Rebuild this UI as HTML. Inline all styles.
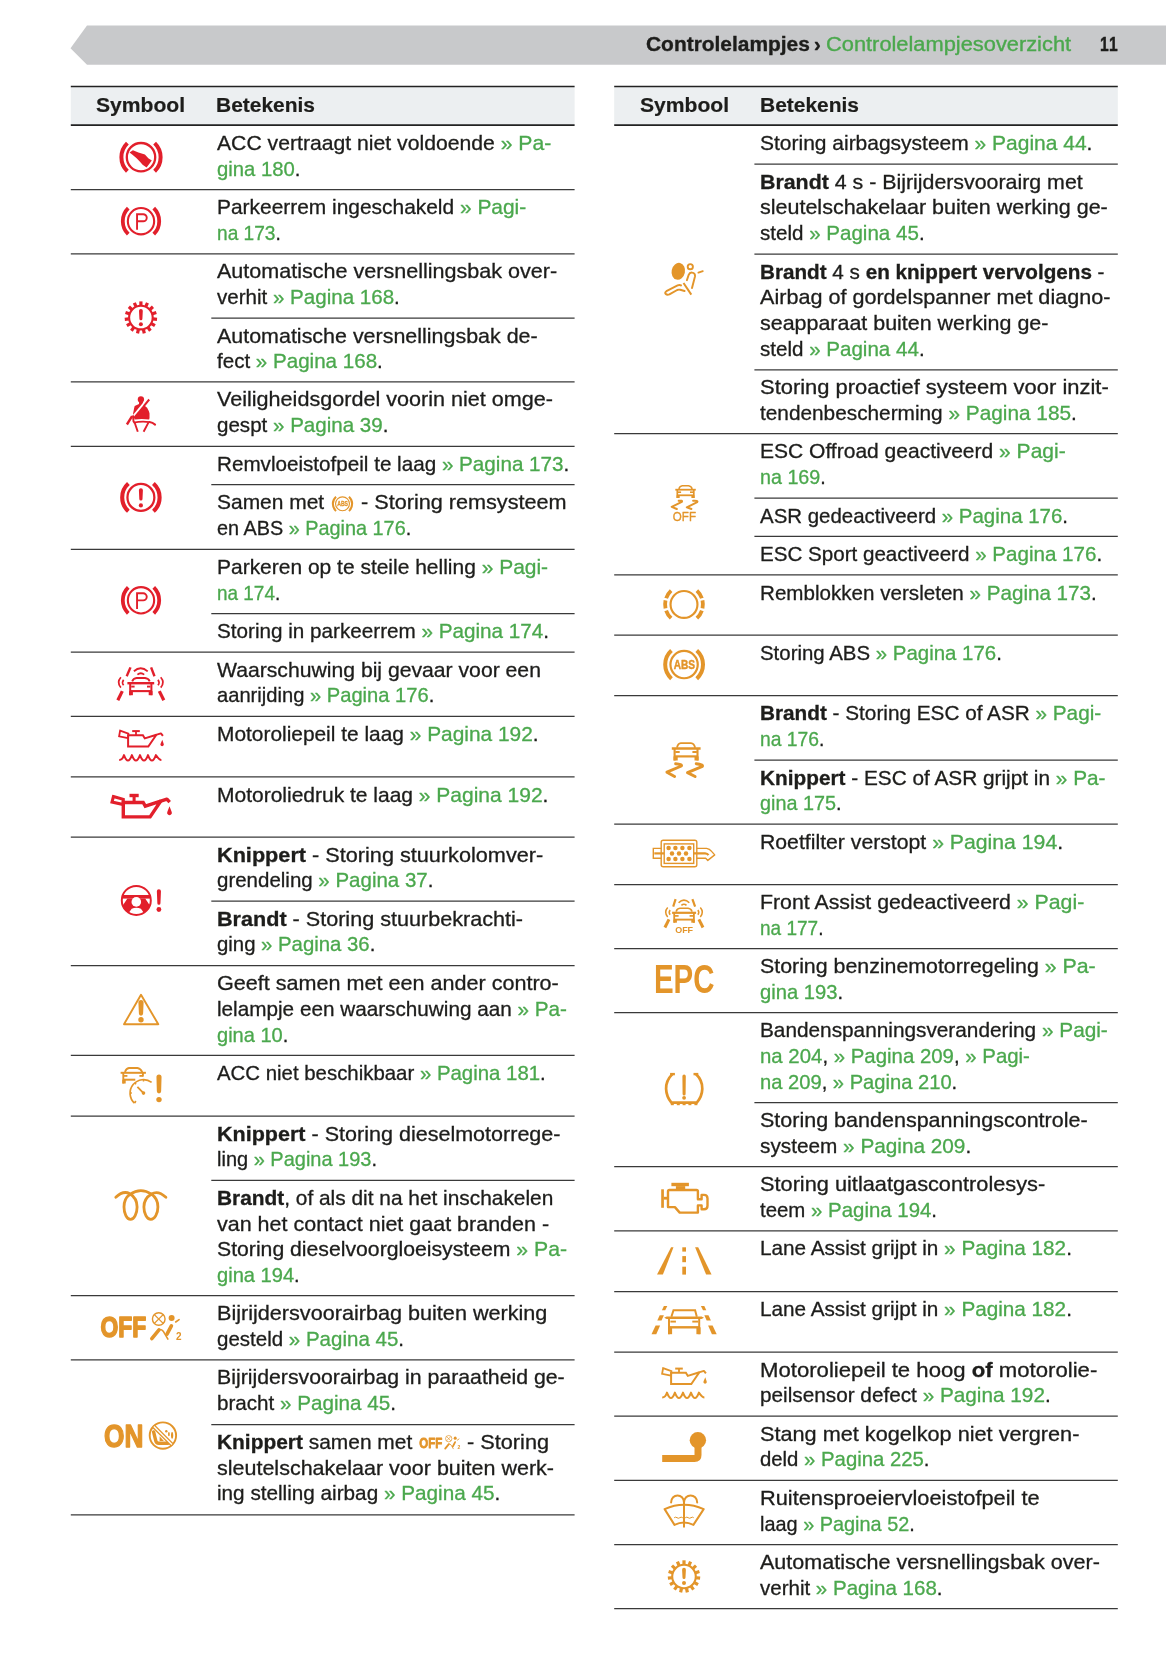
<!DOCTYPE html>
<html><head><meta charset="utf-8"><title>Controlelampjesoverzicht</title>
<style>
html,body{margin:0;padding:0;background:#fff}
body{width:1166px;height:1654px;position:relative;overflow:hidden;will-change:transform;font-family:"Liberation Sans",sans-serif;color:#1d1d1b}
svg.bg{position:absolute;left:0;top:0}
.l{position:absolute;white-space:nowrap;-webkit-text-stroke:0.3px currentColor;transform-origin:0 0;font-size:19.8px;line-height:25.7px;height:25.7px}
.l i{font-style:normal;color:#4ba84d}
.l b{font-weight:bold}
.h{position:absolute;white-space:nowrap;-webkit-text-stroke:0.2px currentColor;font-weight:bold;font-size:20px;line-height:24px;height:24px;transform-origin:0 0}
.bn{position:absolute;white-space:nowrap;-webkit-text-stroke:0.35px currentColor;font-size:20px;line-height:24px;height:24px;transform-origin:0 0}
.bn i{font-style:normal;color:#4ba84d}
</style></head><body>
<svg class="bg" width="1166" height="1654" viewBox="0 0 1166 1654">
<path d="M70.5 48.2 L87 25.6 H1166 V64.8 H87 Z" fill="#c8c9cb"/>
<rect x="70.8" y="86.6" width="503.8" height="38.4" fill="#eceff1"/>
<path d="M70.8 86.6H574.6" stroke="#222" stroke-width="1.5"/>
<path d="M70.8 125.1H574.6" stroke="#222" stroke-width="1.8"/>
<path d="M70.8 189.5H574.6" stroke="#3a3a3a" stroke-width="1.25"/>
<path d="M70.8 253.8H574.6" stroke="#3a3a3a" stroke-width="1.25"/>
<path d="M211.3 318.1H574.6" stroke="#3a3a3a" stroke-width="1.25"/>
<path d="M70.8 381.9H574.6" stroke="#3a3a3a" stroke-width="1.25"/>
<path d="M70.8 446.4H574.6" stroke="#3a3a3a" stroke-width="1.25"/>
<path d="M211.3 484.7H574.6" stroke="#3a3a3a" stroke-width="1.25"/>
<path d="M70.8 549.3H574.6" stroke="#3a3a3a" stroke-width="1.25"/>
<path d="M211.3 613.6H574.6" stroke="#3a3a3a" stroke-width="1.25"/>
<path d="M70.8 652.0H574.6" stroke="#3a3a3a" stroke-width="1.25"/>
<path d="M70.8 716.4H574.6" stroke="#3a3a3a" stroke-width="1.25"/>
<path d="M70.8 776.9H574.6" stroke="#3a3a3a" stroke-width="1.25"/>
<path d="M70.8 837.1H574.6" stroke="#3a3a3a" stroke-width="1.25"/>
<path d="M211.3 901.1H574.6" stroke="#3a3a3a" stroke-width="1.25"/>
<path d="M70.8 965.5H574.6" stroke="#3a3a3a" stroke-width="1.25"/>
<path d="M70.8 1055.3H574.6" stroke="#3a3a3a" stroke-width="1.25"/>
<path d="M70.8 1116.0H574.6" stroke="#3a3a3a" stroke-width="1.25"/>
<path d="M211.3 1180.4H574.6" stroke="#3a3a3a" stroke-width="1.25"/>
<path d="M70.8 1295.6H574.6" stroke="#3a3a3a" stroke-width="1.25"/>
<path d="M70.8 1359.9H574.6" stroke="#3a3a3a" stroke-width="1.25"/>
<path d="M211.3 1424.5H574.6" stroke="#3a3a3a" stroke-width="1.25"/>
<path d="M70.8 1514.8H574.6" stroke="#3a3a3a" stroke-width="1.25"/>
<rect x="614.2" y="86.6" width="503.6" height="38.4" fill="#eceff1"/>
<path d="M614.2 86.6H1117.8" stroke="#222" stroke-width="1.5"/>
<path d="M614.2 125.1H1117.8" stroke="#222" stroke-width="1.8"/>
<path d="M754.4 164.2H1117.8" stroke="#3a3a3a" stroke-width="1.25"/>
<path d="M754.4 254.0H1117.8" stroke="#3a3a3a" stroke-width="1.25"/>
<path d="M754.4 369.8H1117.8" stroke="#3a3a3a" stroke-width="1.25"/>
<path d="M614.2 433.7H1117.8" stroke="#3a3a3a" stroke-width="1.25"/>
<path d="M754.4 498.0H1117.8" stroke="#3a3a3a" stroke-width="1.25"/>
<path d="M754.4 536.4H1117.8" stroke="#3a3a3a" stroke-width="1.25"/>
<path d="M614.2 574.9H1117.8" stroke="#3a3a3a" stroke-width="1.25"/>
<path d="M614.2 635.1H1117.8" stroke="#3a3a3a" stroke-width="1.25"/>
<path d="M614.2 695.5H1117.8" stroke="#3a3a3a" stroke-width="1.25"/>
<path d="M754.4 760.0H1117.8" stroke="#3a3a3a" stroke-width="1.25"/>
<path d="M614.2 824.1H1117.8" stroke="#3a3a3a" stroke-width="1.25"/>
<path d="M614.2 884.5H1117.8" stroke="#3a3a3a" stroke-width="1.25"/>
<path d="M614.2 948.6H1117.8" stroke="#3a3a3a" stroke-width="1.25"/>
<path d="M614.2 1012.7H1117.8" stroke="#3a3a3a" stroke-width="1.25"/>
<path d="M754.4 1102.5H1117.8" stroke="#3a3a3a" stroke-width="1.25"/>
<path d="M614.2 1166.6H1117.8" stroke="#3a3a3a" stroke-width="1.25"/>
<path d="M614.2 1230.8H1117.8" stroke="#3a3a3a" stroke-width="1.25"/>
<path d="M614.2 1291.5H1117.8" stroke="#3a3a3a" stroke-width="1.25"/>
<path d="M614.2 1352.0H1117.8" stroke="#3a3a3a" stroke-width="1.25"/>
<path d="M614.2 1416.0H1117.8" stroke="#3a3a3a" stroke-width="1.25"/>
<path d="M614.2 1480.3H1117.8" stroke="#3a3a3a" stroke-width="1.25"/>
<path d="M614.2 1544.6H1117.8" stroke="#3a3a3a" stroke-width="1.25"/>
<path d="M614.2 1608.7H1117.8" stroke="#3a3a3a" stroke-width="1.25"/>
<g transform="translate(141.00 157.20) scale(1.000)" color="#e21f2b" fill="none" stroke="currentColor"><circle cx="0.00" cy="0.00" r="14.20" stroke-width="2.30"/><path d="M-13.62 14.10A19.60 19.60 0 0 1 -13.62 -14.10" stroke-width="4.00" /><path d="M13.62 -14.10A19.60 19.60 0 0 1 13.62 14.10" stroke-width="4.00" /><path d="M-11.50 -4.70L-8.10 -6.90L-2.60 -4.80L3.90 -2.70L7.30 1.00L10.80 3.40L5.60 10.30L1.60 7.60L-1.00 4.60L-4.40 1.00L-8.20 -2.20Z" fill="currentColor" stroke="none"/></g>
<g transform="translate(141.00 221.20) scale(1.000)" color="#e21f2b" fill="none" stroke="currentColor"><circle cx="0.00" cy="0.00" r="13.15" stroke-width="2.10"/><path d="M-12.76 12.98A18.20 18.20 0 0 1 -12.76 -12.98" stroke-width="3.80" /><path d="M12.76 -12.98A18.20 18.20 0 0 1 12.76 12.98" stroke-width="3.80" /><path d="M-3.95 8.6V-7H2.2A3.55 3.55 0 0 1 2.2 0.1H-3.95" stroke-width="1.9"/></g>
<g transform="translate(140.90 317.60) scale(1.000)" color="#e21f2b" fill="none" stroke="currentColor"><circle cx="0.00" cy="0.00" r="11.80" stroke-width="2.10"/><rect x="-1.6" y="-16.2" width="3.2" height="4" transform="rotate(0)" fill="currentColor" stroke="none"/><rect x="-1.6" y="-16.2" width="3.2" height="4" transform="rotate(24)" fill="currentColor" stroke="none"/><rect x="-1.6" y="-16.2" width="3.2" height="4" transform="rotate(48)" fill="currentColor" stroke="none"/><rect x="-1.6" y="-16.2" width="3.2" height="4" transform="rotate(72)" fill="currentColor" stroke="none"/><rect x="-1.6" y="-16.2" width="3.2" height="4" transform="rotate(96)" fill="currentColor" stroke="none"/><rect x="-1.6" y="-16.2" width="3.2" height="4" transform="rotate(120)" fill="currentColor" stroke="none"/><rect x="-1.6" y="-16.2" width="3.2" height="4" transform="rotate(144)" fill="currentColor" stroke="none"/><rect x="-1.6" y="-16.2" width="3.2" height="4" transform="rotate(168)" fill="currentColor" stroke="none"/><rect x="-1.6" y="-16.2" width="3.2" height="4" transform="rotate(192)" fill="currentColor" stroke="none"/><rect x="-1.6" y="-16.2" width="3.2" height="4" transform="rotate(216)" fill="currentColor" stroke="none"/><rect x="-1.6" y="-16.2" width="3.2" height="4" transform="rotate(240)" fill="currentColor" stroke="none"/><rect x="-1.6" y="-16.2" width="3.2" height="4" transform="rotate(264)" fill="currentColor" stroke="none"/><rect x="-1.6" y="-16.2" width="3.2" height="4" transform="rotate(288)" fill="currentColor" stroke="none"/><rect x="-1.6" y="-16.2" width="3.2" height="4" transform="rotate(312)" fill="currentColor" stroke="none"/><rect x="-1.6" y="-16.2" width="3.2" height="4" transform="rotate(336)" fill="currentColor" stroke="none"/><path d="M-1.90 -6.80A1.90 1.90 0 0 1 1.90 -6.80L1.50 1.10A1.50 1.50 0 0 1 -1.50 1.10Z" fill="currentColor" stroke="none"/><circle cx="0.00" cy="6.60" r="2.00" fill="currentColor" stroke="none"/></g>
<g transform="translate(141.00 414.00) scale(1.000)" color="#e21f2b" fill="none" stroke="currentColor"><circle cx="-0.10" cy="-14.50" r="3.15" fill="currentColor" stroke="none"/><path d="M-1.9 -12H1.9L2.0 -10.0L3.7 -8.3L6.1 -6.3Q7.8 -3.5 8.5 -0.8V4.0L8.1 5.5Q0.6 4.6 -6.3 5.5L-8.0 1.3Q-8.0 -1 -7.3 -3.5Q-7 -6 -6.3 -8.1L-2.0 -10.0Z" fill="currentColor" stroke="none"/><path d="M6.9 -15.7L-10.2 5.0" stroke="#fff" stroke-width="1.9"/><path d="M8.2 -14.5L3.0 -8.2" stroke-width="2.0"/><path d="M-8.9 2.2L-14.1 10.5" stroke-width="2.4"/><path d="M-7.3 8.6Q0.6 7.0 8.5 8.1" stroke-width="1.6"/><path d="M8.5 8.1Q11.6 8.6 14.1 10.6" stroke-width="2.0" stroke-linecap="round"/><path d="M-8.0 1.3L-7.5 7.4L-6.3 8.8L-3.2 17.7M7.4 8.6L2.6 17.7" stroke-width="1.9" stroke-linejoin="round"/></g>
<g transform="translate(140.90 497.40) scale(1.000)" color="#e21f2b" fill="none" stroke="currentColor"><circle cx="0.00" cy="0.00" r="13.45" stroke-width="2.25"/><path d="M-12.51 13.90A18.70 18.70 0 0 1 -12.51 -13.90" stroke-width="4.10" /><path d="M12.51 -13.90A18.70 18.70 0 0 1 12.51 13.90" stroke-width="4.10" /><path d="M-2.00 -7.10A2.00 2.00 0 0 1 2.00 -7.10L1.60 1.60A1.60 1.60 0 0 1 -1.60 1.60Z" fill="currentColor" stroke="none"/><circle cx="0.00" cy="8.00" r="2.10" fill="currentColor" stroke="none"/></g>
<g transform="translate(141.00 600.30) scale(1.000)" color="#e21f2b" fill="none" stroke="currentColor"><circle cx="0.00" cy="0.00" r="13.15" stroke-width="2.10"/><path d="M-12.76 12.98A18.20 18.20 0 0 1 -12.76 -12.98" stroke-width="3.80" /><path d="M12.76 -12.98A18.20 18.20 0 0 1 12.76 12.98" stroke-width="3.80" /><path d="M-3.95 8.6V-7H2.2A3.55 3.55 0 0 1 2.2 0.1H-3.95" stroke-width="1.9"/></g>
<g transform="translate(140.80 684.00) scale(1.000)" color="#e21f2b" fill="none" stroke="currentColor"><path d="M-10.30 -16.60L-14.10 -7.70" stroke-width="2.40" /><path d="M10.30 -16.60L13.70 -7.70" stroke-width="2.40" /><path d="M-18.50 7.10L-23.00 16.30" stroke-width="3.20" /><path d="M18.50 7.10L23.00 16.30" stroke-width="3.20" /><path d="M-6.9 -12.8Q0 -18.8 6.9 -12.6" stroke-width="1.8"/><path d="M-3.4 -9.3Q0 -12.3 3.4 -9.3" stroke-width="1.8"/><path d="M-19.90 -6.7Q-24.50 -1.5 -19.90 3.6" stroke-width="1.7"/><path d="M-17.20 -4.3Q-19.30 -1.5 -17.20 1.2" stroke-width="1.7"/><path d="M19.90 -6.7Q24.50 -1.5 19.90 3.6" stroke-width="1.7"/><path d="M17.20 -4.3Q19.30 -1.5 17.20 1.2" stroke-width="1.7"/><path d="M-8.60 -2.60Q-7.60 -5.70 -4.20 -6.00H4.20Q7.75 -5.70 8.90 -2.60" stroke-width="1.80"/><path d="M-13.40 -0.80L13.40 -0.80" stroke-width="2.40" /><path d="M-10.60 -0.80L-10.60 11.20" stroke-width="2.00" /><path d="M10.60 -0.80L10.60 11.20" stroke-width="2.00" /><path d="M-9.60 2.60L-6.20 2.60" stroke-width="1.90" /><path d="M6.20 2.60L9.60 2.60" stroke-width="1.90" /><path d="M-10.60 7.10L10.60 7.10" stroke-width="2.10" /><rect x="-11.70" y="7.10" width="3.80" height="4.10" fill="currentColor" stroke="none"/><rect x="7.90" y="7.10" width="3.80" height="4.10" fill="currentColor" stroke="none"/></g>
<g transform="translate(141.00 746.50) scale(1.000)" color="#e21f2b" fill="none" stroke="currentColor"><path d="M-12.90 -11.30L1.90 -11.30L3.80 -8.10L15.40 -11.70L7.30 0.10L-12.90 0.10Z" stroke-width="2.00" stroke-linejoin="miter" stroke-miterlimit="2.5"/><path d="M15.00 -11.60L19.90 -13.10L21.90 -10.60" stroke-width="2.00" stroke-linejoin="round"/><path d="M-20.90 -15.90L-12.60 -12.80L-12.90 -8.40L-21.90 -10.20Z" stroke-width="1.80"/><path d="M-8.80 -15.40L-1.20 -15.40" stroke-width="2.00" /><path d="M-5.00 -15.40L-5.00 -11.30" stroke-width="1.80" /><path d="M21.30 -6.80L22.55 -2.95A1.70 1.70 0 1 1 19.66 -2.95Z" fill="currentColor" stroke="none"/><path d="M-21.8 13.6Q-18.4 13.6 -17.0 8.6Q-13.05 19.4 -9.10 8.6Q-5.05 19.4 -1.00 8.6Q3.00 19.4 7.00 8.6Q10.95 19.4 14.90 8.6Q18.4 13.6 20.4 13.6" stroke-width="2.0" stroke-linejoin="round"/></g>
<g transform="translate(141.00 807.00) scale(1.000)" color="#e21f2b" fill="none" stroke="currentColor"><path d="M-17.70 -4.50L2.20 -4.50L4.30 -0.80L19.60 -5.80L9.10 9.90L-17.70 9.90Z" stroke-width="3.40" stroke-linejoin="miter" stroke-miterlimit="2.5"/><path d="M19.00 -5.60L25.90 -7.90L28.70 -4.80" stroke-width="3.40" stroke-linejoin="round"/><path d="M-27.60 -10.40L-17.70 -7.70L-17.70 -2.50L-29.00 -4.90Z" stroke-width="3.06"/><path d="M-11.50 -11.50L-2.30 -11.50" stroke-width="3.40" /><path d="M-6.90 -11.50L-6.90 -4.50" stroke-width="3.06" /><path d="M28.50 -0.80L30.54 4.50A2.40 2.40 0 1 1 26.46 4.50Z" fill="currentColor" stroke="none"/></g>
<g transform="translate(136.30 900.40) scale(1.000)" color="#e21f2b" fill="none" stroke="currentColor"><defs><clipPath id="swc"><circle r="14.5"/></clipPath></defs><g clip-path="url(#swc)"><rect x="-15.00" y="-5.40" width="30.00" height="3.60" fill="currentColor" stroke="none"/><path d="M-8.9 -2L8.9 -2L13.4 4.8L12 9.6L8 13L4.6 8.4Q0 6.2 -4.6 8.4L-8 13L-12 9.6L-13.4 4.8Z" fill="currentColor" stroke="none"/></g><circle cx="0" cy="1.5" r="4.8" fill="#fff" stroke="none"/><circle cx="0.00" cy="0.00" r="14.50" stroke-width="2.00"/><path d="M20.55 -9.15A2.05 2.05 0 0 1 24.65 -9.15L24.15 2.75A1.55 1.55 0 0 1 21.05 2.75Z" fill="currentColor" stroke="none"/><circle cx="22.60" cy="9.10" r="2.40" fill="currentColor" stroke="none"/></g>
<g transform="translate(141.00 1010.40) scale(1.000)" color="#e3952a" fill="none" stroke="currentColor"><path d="M0 -15.65L17.3 13.85H-17.0Z" stroke-width="1.9" stroke-linejoin="round"/><path d="M-2.60 -7.90A2.60 2.60 0 0 1 2.60 -7.90L2.10 3.20A2.10 2.10 0 0 1 -2.10 3.20Z" fill="currentColor" stroke="none"/><circle cx="0.00" cy="9.40" r="2.70" fill="currentColor" stroke="none"/></g>
<g transform="translate(141.00 1086.00) scale(1.000)" color="#e3952a" fill="none" stroke="currentColor"><path d="M-16 -13.9Q-15 -17.6 -12 -18H-3.6Q-0.4 -17.6 1.2 -13.9" stroke-width="1.8"/><path d="M-20.40 -13.20L4.90 -13.20" stroke-width="2.00" /><path d="M-17.70 -13.20L-17.70 -2.50" stroke-width="1.90" /><path d="M1.90 -13.20L1.90 -9.40" stroke-width="1.90" /><path d="M-17.00 -10.10L-13.60 -10.10" stroke-width="1.80" /><path d="M-1.60 -10.10L1.90 -10.10" stroke-width="1.80" /><path d="M-17.70 -6.30L-5.70 -6.30" stroke-width="2.00" /><rect x="-18.70" y="-6.30" width="3.40" height="3.80" fill="currentColor" stroke="none"/><path d="M-6.53 17.13A13.50 13.50 0 0 1 10.62 -3.68" stroke-width="1.70" /><path d="M-6.40 17.10L-5.20 15.00" stroke-width="1.70" /><path d="M2.50 -6.40L2.50 -4.50" stroke-width="1.50" /><path d="M-6.18 -3.24L-4.96 -1.79" stroke-width="1.50" /><path d="M-11.00 7.10L-9.10 7.10" stroke-width="1.50" /><circle cx="2.50" cy="7.10" r="1.80" fill="currentColor" stroke="none"/><path d="M2.50 7.10L-3.60 0.90" stroke-width="1.80" /><path d="M15.45 -8.95A2.55 2.55 0 0 1 20.55 -8.95L20.15 5.25A2.15 2.15 0 0 1 15.85 5.25Z" fill="currentColor" stroke="none"/><circle cx="18.00" cy="13.60" r="2.70" fill="currentColor" stroke="none"/></g>
<g transform="translate(140.70 1205.50) scale(1.000)" color="#e3952a" fill="none" stroke="currentColor"><path d="M-24.9 -8.2Q-17.5 -15.5 -10.8 -11.8C-5.5 -8.5 -3.6 -4 -3.6 1.4C-3.6 8 -6.5 13.9 -10.2 13.9C-13.9 13.9 -16.7 8 -16.7 1.4C-16.7 -4 -14.5 -8.5 -10.8 -11.1Q0 -18.6 10.8 -11.3C15.5 -8 17.2 -4 17.2 1.4C17.2 8 14 13.9 10.2 13.9C6.2 13.9 3.2 8 3.2 1.4C3.2 -4 6 -8.6 10.8 -11.5Q17.5 -15.5 25.2 -8.2" stroke-width="2.8" stroke-linecap="round" stroke-linejoin="round"/></g>
<g transform="translate(141.20 1326.35) scale(1.000)" color="#e3952a" fill="none" stroke="currentColor"><text transform="translate(-17.80 10.35) scale(0.790 1)" font-family="Liberation Sans, sans-serif" font-size="28.90" font-weight="bold" text-anchor="middle" fill="currentColor" stroke="currentColor" stroke-width="1.60" stroke-linejoin="round">OFF</text><circle cx="17.55" cy="-7.35" r="6.30" stroke-width="1.40"/><path d="M13.15 -11.75L21.95 -2.95" stroke-width="1.30" /><path d="M21.95 -11.75L13.15 -2.95" stroke-width="1.30" /><circle cx="30.40" cy="-8.45" r="3.00" fill="currentColor" stroke="none"/><path d="M34.50 -4.35L37.90 -6.75" stroke-width="1.60" stroke-linecap="round"/><path d="M10.60 12.25L17.80 3.55" stroke-width="3.60" stroke-linecap="round"/><path d="M17.40 3.25Q20.30 2.65 22.00 4.85L27.00 13.25" stroke-width="1.6"/><path d="M30.20 -0.55L25.80 7.85" stroke-width="3.60" stroke-linecap="round"/><text transform="translate(37.50 13.75) scale(0.950 1)" font-family="Liberation Sans, sans-serif" font-size="10.50" font-weight="bold" text-anchor="middle" fill="currentColor" stroke="none">2</text></g>
<g transform="translate(141.20 1435.60) scale(1.000)" color="#e3952a" fill="none" stroke="currentColor"><text transform="translate(-17.50 11.30) scale(0.830 1)" font-family="Liberation Sans, sans-serif" font-size="31.60" font-weight="bold" text-anchor="middle" fill="currentColor" stroke="currentColor" stroke-width="1.40" stroke-linejoin="round">ON</text><g transform="translate(21.70 0)"><circle cx="0.00" cy="0.00" r="13.20" stroke-width="1.90"/><path d="M-9.3 -3.7L-7.1 5.3Q-6.6 7.6 -4.1 7.6H5.3" stroke-width="3.4" stroke-linecap="round"/><path d="M-3.3 0.6L1 5.3H-3.3Z" fill="currentColor" stroke="none"/><ellipse cx="9.2" cy="-0.3" rx="1.1" ry="3.4" fill="currentColor" stroke="none"/><ellipse cx="6.0" cy="-1.5" rx="0.9" ry="2.2" fill="currentColor" stroke="none"/><circle cx="3.4" cy="-4.3" r="1.2" fill="currentColor" stroke="none"/><path d="M-9.6 -9.6L9.6 9.6" stroke-width="4.0"/><path d="M-9.0 -9.0L9.0 9.0" stroke="#fff" stroke-width="1.4"/></g></g>
<g transform="translate(342.50 503.80) scale(0.510)" color="#e3952a" fill="none" stroke="currentColor"><circle cx="0.00" cy="0.00" r="13.65" stroke-width="2.20"/><path d="M-12.65 14.05A18.90 18.90 0 0 1 -12.65 -14.05" stroke-width="4.00" /><path d="M12.65 -14.05A18.90 18.90 0 0 1 12.65 14.05" stroke-width="4.00" /><text transform="translate(0.20 4.10) scale(0.760 1)" font-family="Liberation Sans, sans-serif" font-size="13.30" font-weight="bold" text-anchor="middle" fill="currentColor" stroke="currentColor" stroke-width="0.50" stroke-linejoin="round">ABS</text></g>
<g transform="translate(439.85 1442.40) scale(0.505)" color="#e3952a" fill="none" stroke="currentColor"><text transform="translate(-17.80 10.35) scale(0.790 1)" font-family="Liberation Sans, sans-serif" font-size="28.90" font-weight="bold" text-anchor="middle" fill="currentColor" stroke="currentColor" stroke-width="1.60" stroke-linejoin="round">OFF</text><circle cx="17.55" cy="-7.35" r="6.30" stroke-width="1.40"/><path d="M13.15 -11.75L21.95 -2.95" stroke-width="1.30" /><path d="M21.95 -11.75L13.15 -2.95" stroke-width="1.30" /><circle cx="30.40" cy="-8.45" r="3.00" fill="currentColor" stroke="none"/><path d="M34.50 -4.35L37.90 -6.75" stroke-width="1.60" stroke-linecap="round"/><path d="M10.60 12.25L17.80 3.55" stroke-width="3.60" stroke-linecap="round"/><path d="M17.40 3.25Q20.30 2.65 22.00 4.85L27.00 13.25" stroke-width="1.6"/><path d="M30.20 -0.55L25.80 7.85" stroke-width="3.60" stroke-linecap="round"/><text transform="translate(37.50 13.75) scale(0.950 1)" font-family="Liberation Sans, sans-serif" font-size="10.50" font-weight="bold" text-anchor="middle" fill="currentColor" stroke="none">2</text></g>
<g transform="translate(684.00 279.00) scale(1.000)" color="#e3952a" fill="none" stroke="currentColor"><ellipse cx="-5.7" cy="-7.7" rx="6.7" ry="8.5" transform="rotate(12 -5.7 -7.7)" fill="currentColor" stroke="none"/><circle cx="6.30" cy="-12.30" r="2.60" stroke-width="1.90"/><path d="M14.40 -6.40L18.80 -7.90" stroke-width="1.80" stroke-linecap="round"/><path d="M2.9 1.2L4.7 -4.2Q5.6 -6.6 8.0 -6.4Q11.4 -6 11.0 -2.6L8.0 9.1" stroke-width="1.95" stroke-linecap="round"/><path d="M-3.0 6.4Q-4.4 5.4 -6.4 6.4L-17.6 12.2Q-19.6 13.6 -18.2 15.0Q-17 16.2 -14.6 15.4L-6.8 11.0Q-5.4 10.4 -3.8 10.8L0.6 12.0" stroke-width="1.95" stroke-linecap="round" stroke-linejoin="round"/><path d="M-0.50 4.00L7.30 15.60" stroke-width="2.00" /></g>
<g transform="translate(685.20 504.00) scale(1.000)" color="#e3952a" fill="none" stroke="currentColor"><path d="M-6.20 -15.00Q-5.75 -18.00 -2.90 -18.30H3.30Q6.30 -18.00 6.90 -15.00" stroke-width="1.53"/><path d="M-9.90 -14.30L10.60 -14.30" stroke-width="1.80" /><path d="M-7.90 -14.30L-7.90 -6.00" stroke-width="1.70" /><path d="M8.60 -14.30L8.60 -6.00" stroke-width="1.70" /><path d="M-7.20 -11.80L-4.10 -11.80" stroke-width="1.61" /><path d="M4.80 -11.80L7.90 -11.80" stroke-width="1.61" /><path d="M-7.90 -8.70L8.60 -8.70" stroke-width="1.78" /><rect x="-8.60" y="-8.70" width="3.10" height="2.70" fill="currentColor" stroke="none"/><rect x="6.20" y="-8.70" width="3.10" height="2.70" fill="currentColor" stroke="none"/><path d="M-6.50 -3.20Q-2.20 -3.80 -3.40 -2.20L-13.50 2.90L-8.40 5.00" stroke-width="2.00" stroke-linejoin="round" stroke-linecap="round"/><path d="M7.90 -3.20Q13.20 -3.50 12.00 -1.90L1.60 3.30L6.20 5.00" stroke-width="2.00" stroke-linejoin="round" stroke-linecap="round"/><text transform="translate(-0.80 17.30) scale(0.875 1)" font-family="Liberation Sans, sans-serif" font-size="13.20" font-weight="normal" text-anchor="middle" fill="currentColor" stroke="currentColor" stroke-width="0.35" stroke-linejoin="round">OFF</text></g>
<g transform="translate(684.00 604.40) scale(1.000)" color="#e3952a" fill="none" stroke="currentColor"><circle cx="0.00" cy="0.00" r="13.45" stroke-width="2.15"/><path d="M-12.89 13.82A18.90 18.90 0 0 1 -17.87 6.15" stroke-width="3.80" /><path d="M12.89 -13.82A18.90 18.90 0 0 1 17.87 -6.15" stroke-width="3.80" /><path d="M-18.49 3.93A18.90 18.90 0 0 1 -18.49 -3.93" stroke-width="3.80" /><path d="M18.49 -3.93A18.90 18.90 0 0 1 18.49 3.93" stroke-width="3.80" /><path d="M-17.87 -6.15A18.90 18.90 0 0 1 -12.89 -13.82" stroke-width="3.80" /><path d="M17.87 6.15A18.90 18.90 0 0 1 12.89 13.82" stroke-width="3.80" /></g>
<g transform="translate(684.10 664.60) scale(1.000)" color="#e3952a" fill="none" stroke="currentColor"><circle cx="0.00" cy="0.00" r="13.65" stroke-width="2.20"/><path d="M-12.65 14.05A18.90 18.90 0 0 1 -12.65 -14.05" stroke-width="4.00" /><path d="M12.65 -14.05A18.90 18.90 0 0 1 12.65 14.05" stroke-width="4.00" /><text transform="translate(0.20 4.10) scale(0.760 1)" font-family="Liberation Sans, sans-serif" font-size="13.30" font-weight="bold" text-anchor="middle" fill="currentColor" stroke="currentColor" stroke-width="0.50" stroke-linejoin="round">ABS</text></g>
<g transform="translate(685.20 760.00) scale(1.000)" color="#e3952a" fill="none" stroke="currentColor"><path d="M-8.20 -12.30Q-7.45 -16.60 -4.30 -16.90H5.70Q9.00 -16.60 9.90 -12.30" stroke-width="1.89"/><path d="M-13.40 -11.50L15.40 -11.50" stroke-width="2.50" /><path d="M-10.60 -11.50L-10.60 0.50" stroke-width="2.10" /><path d="M12.30 -11.50L12.30 0.50" stroke-width="2.10" /><path d="M-9.90 -8.00L-5.50 -8.00" stroke-width="1.99" /><path d="M7.20 -8.00L11.70 -8.00" stroke-width="1.99" /><path d="M-10.60 -3.60L12.30 -3.60" stroke-width="2.21" /><rect x="-11.70" y="-3.60" width="4.20" height="4.10" fill="currentColor" stroke="none"/><rect x="9.30" y="-3.60" width="4.10" height="4.10" fill="currentColor" stroke="none"/><path d="M-9.60 3.80Q-2.60 4.40 -3.80 6.00L-18.30 12.20L-10.60 16.50" stroke-width="2.90" stroke-linejoin="round" stroke-linecap="round"/><path d="M11.00 3.80Q18.40 4.80 17.20 6.40L2.30 12.60L9.90 16.50" stroke-width="2.90" stroke-linejoin="round" stroke-linecap="round"/></g>
<g transform="translate(684.00 853.50) scale(1.000)" color="#e3952a" fill="none" stroke="currentColor"><rect x="-22.8" y="-13.2" width="35.6" height="26.4" rx="2" stroke-width="1.4"/><rect x="-19.8" y="-9.6" width="29.5" height="19.5" stroke-width="1.4"/><circle cx="-15.40" cy="-5.50" r="2.25" fill="currentColor" stroke="none"/><circle cx="-8.60" cy="-5.50" r="2.25" fill="currentColor" stroke="none"/><circle cx="-1.60" cy="-5.50" r="2.25" fill="currentColor" stroke="none"/><circle cx="5.40" cy="-5.50" r="2.25" fill="currentColor" stroke="none"/><circle cx="-12.00" cy="0.00" r="2.25" fill="currentColor" stroke="none"/><circle cx="-5.00" cy="0.00" r="2.25" fill="currentColor" stroke="none"/><circle cx="2.00" cy="0.00" r="2.25" fill="currentColor" stroke="none"/><circle cx="-15.40" cy="5.40" r="2.25" fill="currentColor" stroke="none"/><circle cx="-8.60" cy="5.40" r="2.25" fill="currentColor" stroke="none"/><circle cx="-1.60" cy="5.40" r="2.25" fill="currentColor" stroke="none"/><circle cx="5.40" cy="5.40" r="2.25" fill="currentColor" stroke="none"/><path d="M-22.8 -5.1H-30.7V4.8H-22.8" stroke-width="1.4"/><path d="M-29.70 -0.10L-19.80 -0.10" stroke-width="2.20" /><path d="M12.8 -5.1H22.6Q25.6 -4.6 27.6 -2.1L30.7 1.4L23.8 6.9L21.7 4.8H12.8" stroke-width="1.4" stroke-linejoin="round"/><path d="M9.7 -0.1H21.1Q23.4 0 24.5 1.7" stroke-width="2.2"/></g>
<g transform="translate(684.00 916.00) scale(1.000)" color="#e3952a" fill="none" stroke="currentColor"><path d="M-8.40 -16.90L-10.80 -9.40" stroke-width="2.20" /><path d="M8.40 -16.90L11.10 -9.40" stroke-width="2.20" /><path d="M-15.00 3.30L-19.10 11.50" stroke-width="3.00" /><path d="M14.90 3.30L19.00 11.50" stroke-width="3.00" /><path d="M-5.4 -13.3Q0 -18.6 5.3 -13.3" stroke-width="1.6"/><path d="M-2.6 -10.6Q0 -12.9 2.5 -10.6" stroke-width="1.6"/><path d="M-16.30 -8.4Q-20.40 -3.6 -16.30 0.9" stroke-width="1.5"/><path d="M-13.90 -6Q-15.70 -3.6 -13.90 -1.2" stroke-width="1.5"/><path d="M16.30 -8.4Q20.40 -3.6 16.30 0.9" stroke-width="1.5"/><path d="M13.90 -6Q15.70 -3.6 13.90 -1.2" stroke-width="1.5"/><path d="M-7.80 -4.40Q-7.20 -7.40 -4.20 -7.70H4.10Q7.25 -7.40 8.00 -4.40" stroke-width="1.62"/><path d="M-11.90 -3.20L12.10 -3.20" stroke-width="2.20" /><path d="M-9.80 -3.20L-9.80 6.70" stroke-width="1.80" /><path d="M9.90 -3.20L9.90 6.70" stroke-width="1.80" /><path d="M-9.10 -0.10L-5.40 -0.10" stroke-width="1.71" /><path d="M5.60 -0.10L9.40 -0.10" stroke-width="1.71" /><path d="M-9.80 3.60L9.90 3.60" stroke-width="1.89" /><rect x="-10.50" y="3.60" width="3.40" height="3.10" fill="currentColor" stroke="none"/><rect x="7.30" y="3.60" width="3.50" height="3.10" fill="currentColor" stroke="none"/><text transform="translate(0.15 17.40) scale(0.930 1)" font-family="Liberation Sans, sans-serif" font-size="9.60" font-weight="bold" text-anchor="middle" fill="currentColor" stroke="none">OFF</text></g>
<g transform="translate(684.00 980.60) scale(1.000)" color="#e3952a" fill="none" stroke="currentColor"><text transform="translate(0.15 12.60) scale(0.740 1)" font-family="Liberation Sans, sans-serif" font-size="39.80" font-weight="bold" text-anchor="middle" fill="currentColor" stroke="none">EPC</text></g>
<g transform="translate(684.10 1088.90) scale(1.000)" color="#e3952a" fill="none" stroke="currentColor"><path d="M-11.7 -14.8C-15.8 -10.8 -18.2 -5.4 -18.0 0C-17.8 5.4 -15.8 10 -12.7 13.7H12.7C16 10 18.0 5.4 18.2 0C18.4 -5.4 16 -10.8 11.8 -14.8" stroke-width="2.7" stroke-linejoin="round"/><rect x="-14.00" y="-16.00" width="4.80" height="2.40" fill="currentColor" stroke="none"/><rect x="9.40" y="-16.00" width="4.80" height="2.40" fill="currentColor" stroke="none"/><rect x="-13.30" y="13.70" width="3.00" height="2.60" fill="currentColor" stroke="none"/><rect x="-7.30" y="13.70" width="3.00" height="2.60" fill="currentColor" stroke="none"/><rect x="-1.50" y="13.70" width="3.00" height="2.60" fill="currentColor" stroke="none"/><rect x="4.30" y="13.70" width="3.00" height="2.60" fill="currentColor" stroke="none"/><rect x="10.30" y="13.70" width="3.00" height="2.60" fill="currentColor" stroke="none"/><path d="M-1.70 -12.70A1.70 1.70 0 0 1 1.70 -12.70L1.50 5.00A1.50 1.50 0 0 1 -1.50 5.00Z" fill="currentColor" stroke="none"/><circle cx="0.00" cy="8.90" r="1.90" fill="currentColor" stroke="none"/></g>
<g transform="translate(684.00 1198.00) scale(1.000)" color="#e3952a" fill="none" stroke="currentColor"><path d="M-14.6 -8.0H12.5Q13.9 -8 13.9 -6.6V1.2H17.6V-3.1H20.0Q23.5 -3.1 23.5 0.4V7.7Q23.5 11.2 20.0 11.2H17.6V7.4H13.9V14.6H-4.3L-9.1 9.1H-16V-6.6Q-16 -8 -14.6 -8Z" stroke-width="2.4" stroke-linejoin="round"/><rect x="-12.60" y="-15.20" width="17.50" height="3.40" fill="currentColor" stroke="none"/><rect x="-8.10" y="-11.90" width="9.30" height="3.90" fill="currentColor" stroke="none"/><rect x="-22.80" y="-8.70" width="2.70" height="18.50" fill="currentColor" stroke="none"/><rect x="-20.20" y="-1.20" width="4.20" height="2.80" fill="currentColor" stroke="none"/></g>
<g transform="translate(684.00 1261.00) scale(1.000)" color="#e3952a" fill="none" stroke="currentColor"><path d="M-12.90 -13.70L-10.50 -13.70L-21.10 13.60L-27.00 13.60Z" fill="currentColor" stroke="none"/><path d="M11.10 -13.70L14.20 -13.70L27.60 13.60L22.10 13.60Z" fill="currentColor" stroke="none"/><rect x="-1.70" y="-13.70" width="3.70" height="4.30" fill="currentColor" stroke="none"/><rect x="-1.70" y="-4.90" width="3.70" height="6.10" fill="currentColor" stroke="none"/><rect x="-1.70" y="5.70" width="3.70" height="7.90" fill="currentColor" stroke="none"/></g>
<g transform="translate(684.10 1320.80) scale(1.000)" color="#e3952a" fill="none" stroke="currentColor"><path d="M-20.20 -14.80L-16.80 -14.80L-18.90 -10.60L-22.20 -10.60Z" fill="currentColor" stroke="none"/><path d="M20.20 -14.80L16.80 -14.80L18.90 -10.60L22.20 -10.60Z" fill="currentColor" stroke="none"/><path d="M-24.40 -5.50L-20.20 -5.50L-22.60 -0.30L-26.80 -0.30Z" fill="currentColor" stroke="none"/><path d="M24.40 -5.50L20.20 -5.50L22.60 -0.30L26.80 -0.30Z" fill="currentColor" stroke="none"/><path d="M-28.50 4.80L-24.00 4.80L-27.80 13.40L-32.60 13.40Z" fill="currentColor" stroke="none"/><path d="M28.50 4.80L24.00 4.80L27.80 13.40L32.60 13.40Z" fill="currentColor" stroke="none"/><path d="M-12.7 -4.1L-10.6 -10.6H11L12.7 -4.1" stroke-width="2.0"/><path d="M-19.9 -3.1L-17.5 -4.3H17.5L19.9 -3.1L17.5 -1.9H-17.5Z" fill="currentColor" stroke="none"/><path d="M-15.10 -3.10L-15.10 13.40" stroke-width="2.00" /><path d="M15.10 -3.10L15.10 13.40" stroke-width="2.00" /><path d="M-13.70 0.80L-8.20 0.80" stroke-width="1.90" /><path d="M8.20 0.80L14.10 0.80" stroke-width="1.90" /><path d="M-15.10 6.50L15.10 6.50" stroke-width="2.40" /><rect x="-16.10" y="6.50" width="4.10" height="6.90" fill="currentColor" stroke="none"/><rect x="12.30" y="6.50" width="4.20" height="6.90" fill="currentColor" stroke="none"/></g>
<g transform="translate(684.00 1384.00) scale(1.000)" color="#e3952a" fill="none" stroke="currentColor"><path d="M-12.90 -11.30L1.90 -11.30L3.80 -8.10L15.40 -11.70L7.30 0.10L-12.90 0.10Z" stroke-width="2.00" stroke-linejoin="miter" stroke-miterlimit="2.5"/><path d="M15.00 -11.60L19.90 -13.10L21.90 -10.60" stroke-width="2.00" stroke-linejoin="round"/><path d="M-20.90 -15.90L-12.60 -12.80L-12.90 -8.40L-21.90 -10.20Z" stroke-width="1.80"/><path d="M-8.80 -15.40L-1.20 -15.40" stroke-width="2.00" /><path d="M-5.00 -15.40L-5.00 -11.30" stroke-width="1.80" /><path d="M21.30 -6.80L22.55 -2.95A1.70 1.70 0 1 1 19.66 -2.95Z" fill="currentColor" stroke="none"/><path d="M-21.8 13.6Q-18.4 13.6 -17.0 8.6Q-13.05 19.4 -9.10 8.6Q-5.05 19.4 -1.00 8.6Q3.00 19.4 7.00 8.6Q10.95 19.4 14.90 8.6Q18.4 13.6 20.4 13.6" stroke-width="2.0" stroke-linejoin="round"/></g>
<g transform="translate(684.00 1448.00) scale(1.000)" color="#e3952a" fill="none" stroke="currentColor"><circle cx="13.90" cy="-7.70" r="8.20" fill="currentColor" stroke="none"/><path d="M-21.8 10.5H10.5Q14 10.5 14 7V-3" stroke-width="7"/></g>
<g transform="translate(684.00 1512.00) scale(1.000)" color="#e3952a" fill="none" stroke="currentColor"><path d="M-19.4 -2.9Q0 -11.7 19.7 -2.9L9.4 12.9Q0 8.1 -9.5 12.9Z" stroke-width="2.0" stroke-linejoin="round"/><path d="M0.00 -10.10L0.00 15.60" stroke-width="2.00" /><path d="M0 -9.4C0 -19 -12.9 -19 -12.9 -9.4" stroke-width="2.0" stroke-linecap="round"/><path d="M0 -9.4C0 -19 13.2 -19 13.2 -9.4" stroke-width="2.0" stroke-linecap="round"/><path d="M-9.8 5.7Q-8.4 4.6 -7 5.7T-4.2 5.7T-1.4 5.7T1.4 5.7T4.2 5.7T7 5.7T9.7 5.7" stroke-width="1.0"/></g>
<g transform="translate(684.00 1576.50) scale(1.000)" color="#e3952a" fill="none" stroke="currentColor"><circle cx="0.00" cy="0.00" r="11.80" stroke-width="2.10"/><rect x="-1.6" y="-16.2" width="3.2" height="4" transform="rotate(0)" fill="currentColor" stroke="none"/><rect x="-1.6" y="-16.2" width="3.2" height="4" transform="rotate(24)" fill="currentColor" stroke="none"/><rect x="-1.6" y="-16.2" width="3.2" height="4" transform="rotate(48)" fill="currentColor" stroke="none"/><rect x="-1.6" y="-16.2" width="3.2" height="4" transform="rotate(72)" fill="currentColor" stroke="none"/><rect x="-1.6" y="-16.2" width="3.2" height="4" transform="rotate(96)" fill="currentColor" stroke="none"/><rect x="-1.6" y="-16.2" width="3.2" height="4" transform="rotate(120)" fill="currentColor" stroke="none"/><rect x="-1.6" y="-16.2" width="3.2" height="4" transform="rotate(144)" fill="currentColor" stroke="none"/><rect x="-1.6" y="-16.2" width="3.2" height="4" transform="rotate(168)" fill="currentColor" stroke="none"/><rect x="-1.6" y="-16.2" width="3.2" height="4" transform="rotate(192)" fill="currentColor" stroke="none"/><rect x="-1.6" y="-16.2" width="3.2" height="4" transform="rotate(216)" fill="currentColor" stroke="none"/><rect x="-1.6" y="-16.2" width="3.2" height="4" transform="rotate(240)" fill="currentColor" stroke="none"/><rect x="-1.6" y="-16.2" width="3.2" height="4" transform="rotate(264)" fill="currentColor" stroke="none"/><rect x="-1.6" y="-16.2" width="3.2" height="4" transform="rotate(288)" fill="currentColor" stroke="none"/><rect x="-1.6" y="-16.2" width="3.2" height="4" transform="rotate(312)" fill="currentColor" stroke="none"/><rect x="-1.6" y="-16.2" width="3.2" height="4" transform="rotate(336)" fill="currentColor" stroke="none"/><path d="M-1.90 -6.80A1.90 1.90 0 0 1 1.90 -6.80L1.50 1.10A1.50 1.50 0 0 1 -1.50 1.10Z" fill="currentColor" stroke="none"/><circle cx="0.00" cy="6.60" r="2.00" fill="currentColor" stroke="none"/></g>
</svg>
<div class="bn" id="bn1" style="left:645.5px;top:32.47px;transform:scaleX(1.0459);"><b>Controlelampjes</b></div>
<div class="bn" id="bn2" style="left:814.0px;top:32.47px;transform:scaleX(1.0192);"><b>›</b></div>
<div class="bn" id="bn3" style="left:825.8px;top:32.47px;transform:scaleX(1.0915);"><i>Controlelampjesoverzicht</i></div>
<div class="bn" id="bn4" style="left:1099.6px;top:32.47px;transform:scaleX(0.7783);"><b style="-webkit-text-stroke:0.5px currentColor;letter-spacing:1.5px">11</b></div>
<div class="h" id="h1" style="left:96.3px;top:92.57px;transform:scaleX(1.0550);">Symbool</div>
<div class="h" id="h2" style="left:216.1px;top:92.57px;transform:scaleX(1.0476);">Betekenis</div>
<div class="h" id="h3" style="left:639.7px;top:92.57px;transform:scaleX(1.0550);">Symbool</div>
<div class="h" id="h4" style="left:759.5px;top:92.57px;transform:scaleX(1.0476);">Betekenis</div>
<div class="l" id="L0_0" style="left:217.4px;top:131px;transform:scaleX(1.0705);">ACC vertraagt niet voldoende <i>» Pa-</i></div>
<div class="l" id="L0_1" style="left:217.4px;top:157px;transform:scaleX(1.0245);"><i>gina 180</i>.</div>
<div class="l" id="L1_0" style="left:217.4px;top:195px;transform:scaleX(1.0572);">Parkeerrem ingeschakeld <i>» Pagi-</i></div>
<div class="l" id="L1_1" style="left:217.4px;top:221px;transform:scaleX(0.9664);"><i>na 173</i>.</div>
<div class="l" id="L2_0" style="left:217.4px;top:259px;transform:scaleX(1.0895);">Automatische versnellingsbak over-</div>
<div class="l" id="L2_1" style="left:217.4px;top:285px;transform:scaleX(1.0388);">verhit <i>» Pagina 168</i>.</div>
<div class="l" id="L3_0" style="left:217.4px;top:324px;transform:scaleX(1.0842);">Automatische versnellingsbak de-</div>
<div class="l" id="L3_1" style="left:217.4px;top:349px;transform:scaleX(1.0396);">fect <i>» Pagina 168</i>.</div>
<div class="l" id="L4_0" style="left:217.4px;top:387px;transform:scaleX(1.0912);">Veiligheidsgordel voorin niet omge-</div>
<div class="l" id="L4_1" style="left:217.4px;top:413px;transform:scaleX(1.0389);">gespt <i>» Pagina 39</i>.</div>
<div class="l" id="L5_0" style="left:217.4px;top:452px;transform:scaleX(1.0435);">Remvloeistofpeil te laag <i>» Pagina 173</i>.</div>
<div class="l" id="L6_0" style="left:217.4px;top:490px;transform:scaleX(1.0597);">Samen met</div>
<div class="l" id="L6_0_s1" style="left:360.8px;top:490px;transform:scaleX(1.0937);">- Storing remsysteem</div>
<div class="l" id="L6_1" style="left:217.4px;top:516px;transform:scaleX(1.0031);">en ABS <i>» Pagina 176</i>.</div>
<div class="l" id="L7_0" style="left:217.4px;top:555px;transform:scaleX(1.0602);">Parkeren op te steile helling <i>» Pagi-</i></div>
<div class="l" id="L7_1" style="left:217.4px;top:581px;transform:scaleX(0.9573);"><i>na 174</i>.</div>
<div class="l" id="L8_0" style="left:217.4px;top:619px;transform:scaleX(1.0450);">Storing in parkeerrem <i>» Pagina 174</i>.</div>
<div class="l" id="L9_0" style="left:217.4px;top:658px;transform:scaleX(1.0699);">Waarschuwing bij gevaar voor een</div>
<div class="l" id="L9_1" style="left:217.4px;top:683px;transform:scaleX(1.0184);">aanrijding <i>» Pagina 176</i>.</div>
<div class="l" id="L10_0" style="left:217.4px;top:722px;transform:scaleX(1.0557);">Motoroliepeil te laag <i>» Pagina 192</i>.</div>
<div class="l" id="L11_0" style="left:217.4px;top:783px;transform:scaleX(1.0611);">Motoroliedruk te laag <i>» Pagina 192</i>.</div>
<div class="l" id="L12_0" style="left:217.4px;top:843px;transform:scaleX(1.0950);"><b>Knippert</b> - Storing stuurkolomver-</div>
<div class="l" id="L12_1" style="left:217.4px;top:868px;transform:scaleX(1.0355);">grendeling <i>» Pagina 37</i>.</div>
<div class="l" id="L13_0" style="left:217.4px;top:907px;transform:scaleX(1.0915);"><b>Brandt</b> - Storing stuurbekrachti-</div>
<div class="l" id="L13_1" style="left:217.4px;top:932px;transform:scaleX(1.0279);">ging <i>» Pagina 36</i>.</div>
<div class="l" id="L14_0" style="left:217.4px;top:971px;transform:scaleX(1.0907);">Geeft samen met een ander contro-</div>
<div class="l" id="L14_1" style="left:217.4px;top:997px;transform:scaleX(1.0470);">lelampje een waarschuwing aan <i>» Pa-</i></div>
<div class="l" id="L14_2" style="left:217.4px;top:1023px;transform:scaleX(1.0127);"><i>gina 10</i>.</div>
<div class="l" id="L15_0" style="left:217.4px;top:1061px;transform:scaleX(1.0310);">ACC niet beschikbaar <i>» Pagina 181</i>.</div>
<div class="l" id="L16_0" style="left:217.4px;top:1122px;transform:scaleX(1.0887);"><b>Knippert</b> - Storing dieselmotorrege-</div>
<div class="l" id="L16_1" style="left:217.4px;top:1147px;transform:scaleX(1.0102);">ling <i>» Pagina 193</i>.</div>
<div class="l" id="L17_0" style="left:217.4px;top:1186px;transform:scaleX(1.0546);"><b>Brandt</b>, of als dit na het inschakelen</div>
<div class="l" id="L17_1" style="left:217.4px;top:1212px;transform:scaleX(1.0862);">van het contact niet gaat branden -</div>
<div class="l" id="L17_2" style="left:217.4px;top:1237px;transform:scaleX(1.0718);">Storing dieselvoorgloeisysteem <i>» Pa-</i></div>
<div class="l" id="L17_3" style="left:217.4px;top:1263px;transform:scaleX(1.0159);"><i>gina 194</i>.</div>
<div class="l" id="L18_0" style="left:217.4px;top:1301px;transform:scaleX(1.0927);">Bijrijdersvoorairbag buiten werking</div>
<div class="l" id="L18_1" style="left:217.4px;top:1327px;transform:scaleX(1.0366);">gesteld <i>» Pagina 45</i>.</div>
<div class="l" id="L19_0" style="left:217.4px;top:1365px;transform:scaleX(1.0755);">Bijrijdersvoorairbag in paraatheid ge-</div>
<div class="l" id="L19_1" style="left:217.4px;top:1391px;transform:scaleX(1.0427);">bracht <i>» Pagina 45</i>.</div>
<div class="l" id="L20_0" style="left:217.4px;top:1430px;transform:scaleX(1.0570);"><b>Knippert</b> samen met</div>
<div class="l" id="L20_0_s1" style="left:467.4px;top:1430px;transform:scaleX(1.0981);">- Storing</div>
<div class="l" id="L20_1" style="left:217.4px;top:1456px;transform:scaleX(1.0869);">sleutelschakelaar voor buiten werk-</div>
<div class="l" id="L20_2" style="left:217.4px;top:1481px;transform:scaleX(1.0468);">ing stelling airbag <i>» Pagina 45</i>.</div>
<div class="l" id="R0_0" style="left:760.4px;top:131px;transform:scaleX(1.0606);">Storing airbagsysteem <i>» Pagina 44</i>.</div>
<div class="l" id="R1_0" style="left:760.4px;top:170px;transform:scaleX(1.0793);"><b>Brandt</b> 4 s - Bijrijdersvoorairg met</div>
<div class="l" id="R1_1" style="left:760.4px;top:195px;transform:scaleX(1.0869);">sleutelschakelaar buiten werking ge-</div>
<div class="l" id="R1_2" style="left:760.4px;top:221px;transform:scaleX(1.0393);">steld <i>» Pagina 45</i>.</div>
<div class="l" id="R2_0" style="left:760.4px;top:260px;transform:scaleX(1.0446);"><b>Brandt</b> 4 s <b>en knippert vervolgens</b> -</div>
<div class="l" id="R2_1" style="left:760.4px;top:285px;transform:scaleX(1.0912);">Airbag of gordelspanner met diagno-</div>
<div class="l" id="R2_2" style="left:760.4px;top:311px;transform:scaleX(1.0837);">seapparaat buiten werking ge-</div>
<div class="l" id="R2_3" style="left:760.4px;top:337px;transform:scaleX(1.0393);">steld <i>» Pagina 44</i>.</div>
<div class="l" id="R3_0" style="left:760.4px;top:375px;transform:scaleX(1.1090);">Storing proactief systeem voor inzit-</div>
<div class="l" id="R3_1" style="left:760.4px;top:401px;transform:scaleX(1.0513);">tendenbescherming <i>» Pagina 185</i>.</div>
<div class="l" id="R4_0" style="left:760.4px;top:439px;transform:scaleX(1.0624);">ESC Offroad geactiveerd <i>» Pagi-</i></div>
<div class="l" id="R4_1" style="left:760.4px;top:465px;transform:scaleX(0.9967);"><i>na 169</i>.</div>
<div class="l" id="R5_0" style="left:760.4px;top:504px;transform:scaleX(1.0334);">ASR gedeactiveerd <i>» Pagina 176</i>.</div>
<div class="l" id="R6_0" style="left:760.4px;top:542px;transform:scaleX(1.0407);">ESC Sport geactiveerd <i>» Pagina 176</i>.</div>
<div class="l" id="R7_0" style="left:760.4px;top:581px;transform:scaleX(1.0415);">Remblokken versleten <i>» Pagina 173</i>.</div>
<div class="l" id="R8_0" style="left:760.4px;top:641px;transform:scaleX(1.0322);">Storing ABS <i>» Pagina 176</i>.</div>
<div class="l" id="R9_0" style="left:760.4px;top:701px;transform:scaleX(1.0484);"><b>Brandt</b> - Storing ESC of ASR <i>» Pagi-</i></div>
<div class="l" id="R9_1" style="left:760.4px;top:727px;transform:scaleX(0.9770);"><i>na 176</i>.</div>
<div class="l" id="R10_0" style="left:760.4px;top:766px;transform:scaleX(1.0511);"><b>Knippert</b> - ESC of ASR grijpt in <i>» Pa-</i></div>
<div class="l" id="R10_1" style="left:760.4px;top:791px;transform:scaleX(1.0012);"><i>gina 175</i>.</div>
<div class="l" id="R11_0" style="left:760.4px;top:830px;transform:scaleX(1.0725);">Roetfilter verstopt <i>» Pagina 194</i>.</div>
<div class="l" id="R12_0" style="left:760.4px;top:890px;transform:scaleX(1.0764);">Front Assist gedeactiveerd <i>» Pagi-</i></div>
<div class="l" id="R12_1" style="left:760.4px;top:916px;transform:scaleX(0.9619);"><i>na 177</i>.</div>
<div class="l" id="R13_0" style="left:760.4px;top:954px;transform:scaleX(1.0787);">Storing benzinemotorregeling <i>» Pa-</i></div>
<div class="l" id="R13_1" style="left:760.4px;top:980px;transform:scaleX(1.0208);"><i>gina 193</i>.</div>
<div class="l" id="R14_0" style="left:760.4px;top:1018px;transform:scaleX(1.0506);">Bandenspanningsverandering <i>» Pagi-</i></div>
<div class="l" id="R14_1" style="left:760.4px;top:1044px;transform:scaleX(1.0310);"><i>na 204</i>, <i>» Pagina 209</i>, <i>» Pagi-</i></div>
<div class="l" id="R14_2" style="left:760.4px;top:1070px;transform:scaleX(1.0185);"><i>na 209</i>, <i>» Pagina 210</i>.</div>
<div class="l" id="R15_0" style="left:760.4px;top:1108px;transform:scaleX(1.0872);">Storing bandenspanningscontrole-</div>
<div class="l" id="R15_1" style="left:760.4px;top:1134px;transform:scaleX(1.0494);">systeem <i>» Pagina 209</i>.</div>
<div class="l" id="R16_0" style="left:760.4px;top:1172px;transform:scaleX(1.0991);">Storing uitlaatgascontrolesys-</div>
<div class="l" id="R16_1" style="left:760.4px;top:1198px;transform:scaleX(1.0316);">teem <i>» Pagina 194</i>.</div>
<div class="l" id="R17_0" style="left:760.4px;top:1236px;transform:scaleX(1.0465);">Lane Assist grijpt in <i>» Pagina 182</i>.</div>
<div class="l" id="R18_0" style="left:760.4px;top:1297px;transform:scaleX(1.0465);">Lane Assist grijpt in <i>» Pagina 182</i>.</div>
<div class="l" id="R19_0" style="left:760.4px;top:1358px;transform:scaleX(1.1196);">Motoroliepeil te hoog <b>of</b> motorolie-</div>
<div class="l" id="R19_1" style="left:760.4px;top:1383px;transform:scaleX(1.0489);">peilsensor defect <i>» Pagina 192</i>.</div>
<div class="l" id="R20_0" style="left:760.4px;top:1422px;transform:scaleX(1.0961);">Stang met kogelkop niet vergren-</div>
<div class="l" id="R20_1" style="left:760.4px;top:1447px;transform:scaleX(1.0273);">deld <i>» Pagina 225</i>.</div>
<div class="l" id="R21_0" style="left:760.4px;top:1486px;transform:scaleX(1.1008);">Ruitensproeiervloeistofpeil te</div>
<div class="l" id="R21_1" style="left:760.4px;top:1512px;transform:scaleX(1.0052);">laag <i>» Pagina 52</i>.</div>
<div class="l" id="R22_0" style="left:760.4px;top:1550px;transform:scaleX(1.0885);">Automatische versnellingsbak over-</div>
<div class="l" id="R22_1" style="left:760.4px;top:1576px;transform:scaleX(1.0371);">verhit <i>» Pagina 168</i>.</div>
</body></html>
